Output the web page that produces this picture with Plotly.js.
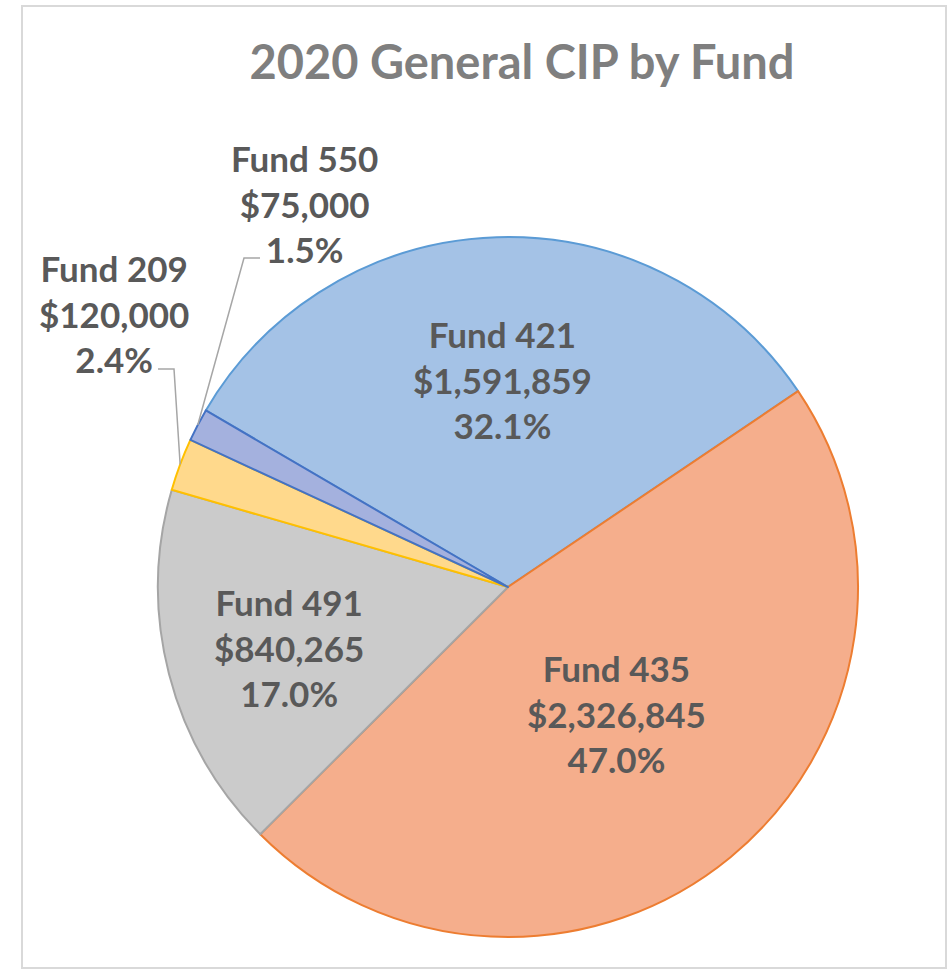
<!DOCTYPE html>
<html>
<head>
<meta charset="utf-8">
<script src="https://cdn.plot.ly/plotly-3.0.1.min.js"></script>
<style>html,body{margin:0;padding:0;background:#fff;}#chart{width:951px;height:973px;}</style>
</head>
<body>
<div id="chart"></div>
<script>
// ---- data ----
const funds = ['Fund 421', 'Fund 435', 'Fund 491', 'Fund 209', 'Fund 550'];
const amounts = [1591859, 2326845, 840265, 120000, 75000];

// ---- styles ----
const fillColors = ['#a4c2e6', '#f5ae8c', '#cbcbcb', '#ffd98c', '#a4b1de'];
const lineColors = ['#5b9bd5', '#ed7d31', '#a5a5a5', '#ffc000', '#4472c4'];
const W = 951, H = 973;
const CX = 508, CY = 587, R = 350;          // pie centre / radius in px
const ROT = -59.7;                          // start angle of first slice (deg, clockwise from 12 o'clock)
const labelPos = [[502, 380], [616, 713], [289, 647], [114, 313], [304, 203]];
const elbows = {3: [[174, 369], [158, 369]], 4: [[244, 258], [260, 258]]};
const labelFont = {family: 'Lato', size: 35, color: '#595959', weight: 'bold'};

const total = amounts.reduce((a, b) => a + b, 0);
const px = x => x / W, py = y => 1 - y / H;

const annotations = [];
const shapes = [{
  type: 'rect', xref: 'paper', yref: 'paper',
  x0: px(22), x1: px(946), y0: py(968), y1: py(6),
  line: {color: '#d9d9d9', width: 2}, fillcolor: 'rgba(0,0,0,0)', layer: 'below'
}];

let cum = 0;
funds.forEach((f, i) => {
  const share = amounts[i] / total;
  const mid = (ROT + (cum + share / 2) * 360) * Math.PI / 180;
  cum += share;
  const txt = f + '<br>$' + amounts[i].toLocaleString('en-US') + '<br>' + (share * 100).toFixed(1) + '%';
  annotations.push({
    text: txt, xref: 'paper', yref: 'paper', x: px(labelPos[i][0]), y: py(labelPos[i][1]),
    xanchor: 'center', yanchor: 'middle', showarrow: false, font: labelFont, align: 'center'
  });
  if (elbows[i]) {
    const ex = CX + R * Math.sin(mid), ey = CY - R * Math.cos(mid);
    const pts = [[ex, ey]].concat(elbows[i]);
    const path = pts.map((p, k) => (k ? 'L' : 'M') + px(p[0]) + ',' + py(p[1])).join(' ');
    shapes.push({type: 'path', xref: 'paper', yref: 'paper', path: path,
      line: {color: '#a6a6a6', width: 1.5}});
  }
});

const trace = {
  type: 'pie',
  labels: funds,
  values: amounts,
  sort: false,
  direction: 'clockwise',
  rotation: ROT,
  textinfo: 'none',
  hoverinfo: 'label+value+percent',
  marker: {colors: fillColors, line: {color: lineColors, width: 2}},
  domain: {x: [px(CX - R), px(CX + R)], y: [py(CY + R), py(CY - R)]},
  showlegend: false
};

const layout = {
  width: W, height: H,
  margin: {l: 0, r: 0, t: 0, b: 0},
  paper_bgcolor: '#ffffff',
  title: {
    text: '2020 General CIP by Fund',
    x: px(522), xanchor: 'center', y: py(63), yanchor: 'middle',
    font: {family: 'Lato', size: 47, color: '#7f7f7f', weight: 'bold'}
  },
  annotations: annotations,
  shapes: shapes,
  showlegend: false
};

Plotly.newPlot('chart', [trace], layout, {displayModeBar: false, staticPlot: true});
</script>
</body>
</html>
